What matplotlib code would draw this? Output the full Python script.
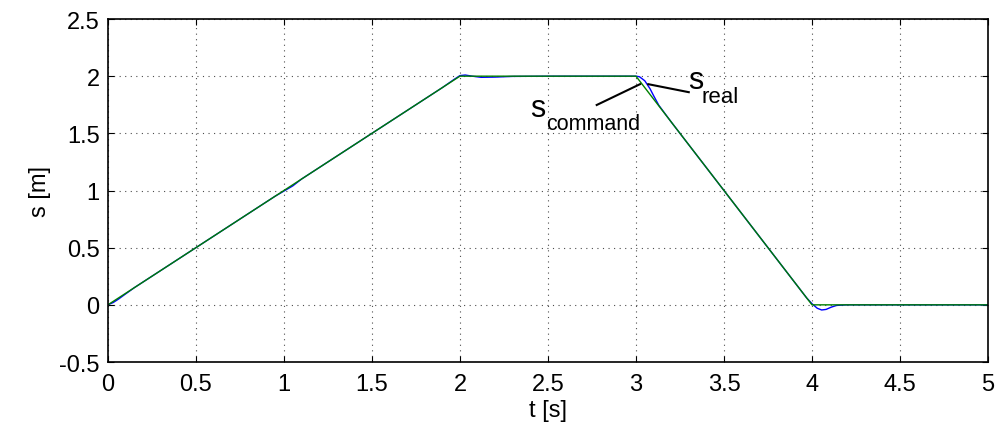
import numpy as np
import matplotlib
matplotlib.use('Agg')
from matplotlib import pyplot as plt

plt.rcParams['font.family'] = ['Liberation Sans', 'DejaVu Sans']

# command trajectory (breakpoints)
t_command = [0.0, 2.0, 3.0, 4.0, 5.0]
s_command = [0.0, 2.0, 2.0, 0.0, 0.0]

t_real = [0.0, 0.03, 0.06, 0.1, 0.15, 0.2, 0.95, 1.0, 1.05, 1.1, 1.9, 1.97, 2.0,
          2.03, 2.07, 2.12, 2.2, 2.3, 2.5, 3.0, 3.02, 3.05, 3.08, 3.1, 3.13,
          3.2, 3.9, 3.97, 4.0, 4.03, 4.055, 4.08, 4.11, 4.14, 4.2, 5.0]
s_real = [0.0, 0.02, 0.05, 0.095, 0.15, 0.2, 0.95, 0.995, 1.04, 1.1, 1.9, 1.975, 2.005,
          2.01, 2.0, 1.99, 1.992, 1.998, 2.0, 2.0, 1.995, 1.96, 1.89, 1.83, 1.745,
          1.6, 0.2, 0.06, 0.01, -0.03, -0.045, -0.04, -0.02, -0.005, 0.0, 0.0]

fig = plt.figure(figsize=(9.99, 4.35), dpi=100)
ax = fig.add_axes([0.108, 0.1655, 0.881, 0.7885])

ax.plot(t_real, s_real, color=(0, 0, 1), linewidth=1.0)
ax.plot(t_command, s_command, color=(0, 0.5, 0), linewidth=1.0)

ax.set_xlim(0, 5)
ax.set_ylim(-0.5, 2.5)
ax.set_xticks(np.arange(0, 5.01, 0.5))
ax.set_yticks(np.arange(-0.5, 2.51, 0.5))
ax.set_xticklabels(['0', '0.5', '1', '1.5', '2', '2.5', '3', '3.5', '4', '4.5', '5'])
ax.set_yticklabels(['-0.5', '0', '0.5', '1', '1.5', '2', '2.5'])
ax.tick_params(direction='in', length=4, width=0.8, labelsize=17,
               top=True, right=True)
ax.tick_params(axis='x', pad=8)
ax.tick_params(axis='y', pad=6)
ax.grid(True, linestyle=(0, (1, 4)), color='black', linewidth=0.8, alpha=0.7)
for sp in ax.spines.values():
    sp.set_linewidth(1.2)

ax.set_xlabel('t [s]', fontsize=17, labelpad=3)
ax.set_ylabel('s [m]', fontsize=17, labelpad=6)

# annotations
ax.plot([2.777, 3.023], [1.748, 1.93], color='black', linewidth=1.5)
ax.plot([3.07, 3.30], [1.93, 1.86], color='black', linewidth=1.5)
ax.text(2.398, 1.655, 's', fontsize=22, va='baseline', ha='left')
ax.text(2.489, 1.538, 'command', fontsize=15.5, va='baseline', ha='left')
ax.text(3.295, 1.897, 's', fontsize=22, va='baseline', ha='left')
ax.text(3.375, 1.772, 'real', fontsize=16, va='baseline', ha='left')

fig.savefig('out.png', dpi=100)
